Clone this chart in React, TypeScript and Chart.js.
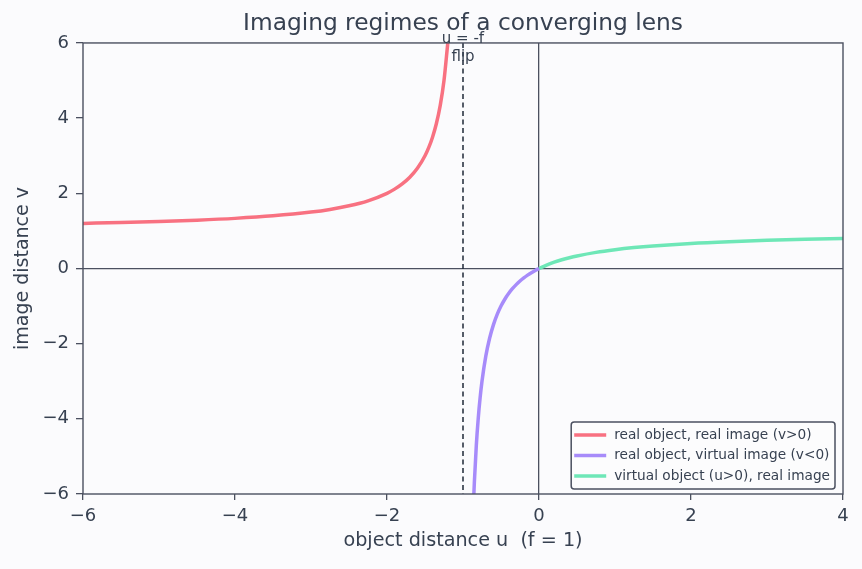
import React, { useEffect, useRef } from "react";
import { Chart, registerables } from "chart.js";

Chart.register(...registerables);

// Data: object distance u -> image distance v
const realImageU = [-6, -5.5, -5, -4.5, -4, -3.5, -3, -2.75, -2.5, -2.25, -2, -1.9, -1.8, -1.7, -1.6, -1.5, -1.45, -1.4, -1.35, -1.3, -1.25, -1.2];
const realImageV = [1.2, 1.222, 1.25, 1.286, 1.333, 1.4, 1.5, 1.571, 1.667, 1.8, 2.0, 2.111, 2.25, 2.429, 2.667, 3.0, 3.222, 3.5, 3.857, 4.333, 5.0, 6.0];

const virtualImageU = [-0.857, -0.85, -0.825, -0.8, -0.775, -0.75, -0.7, -0.65, -0.6, -0.55, -0.5, -0.45, -0.4, -0.35, -0.3, -0.25, -0.2, -0.15, -0.1, -0.05, 0];
const virtualImageV = [-6.0, -5.667, -4.714, -4.0, -3.444, -3.0, -2.333, -1.857, -1.5, -1.222, -1.0, -0.818, -0.667, -0.538, -0.429, -0.333, -0.25, -0.176, -0.111, -0.053, 0];

const virtualObjectU = [0, 0.1, 0.2, 0.3, 0.4, 0.5, 0.75, 1, 1.25, 1.5, 2, 2.5, 3, 3.5, 4];
const virtualObjectV = [0, 0.091, 0.167, 0.231, 0.286, 0.333, 0.429, 0.5, 0.556, 0.6, 0.667, 0.714, 0.75, 0.778, 0.8];

const seriesLabels = [
  "real object, real image (v>0)",
  "real object, virtual image (v<0)",
  "virtual object (u>0), real image",
];
const seriesColors = ["#f87181", "#a78bfa", "#6ee7b7"];

const xTicks = [-6, -4, -2, 0, 2, 4];
const yTicks = [-6, -4, -2, 0, 2, 4, 6];
const focalU = -1;

const FONT = "'DejaVu Sans', sans-serif";
const TEXT = "#374151";
const AXIS = "#4b5060";
const BG = "#fbfbfd";

const toPoints = (xs: number[], ys: number[]) => xs.map((x, i) => ({ x, y: ys[i] }));

const overlayPlugin = {
  id: "overlay",
  beforeDraw(chart: any) {
    const { ctx, width, height } = chart;
    ctx.save();
    ctx.fillStyle = BG;
    ctx.fillRect(0, 0, width, height);
    ctx.restore();
  },
  beforeDatasetsDraw(chart: any) {
    const { ctx, chartArea, scales } = chart;
    const x = scales.x.getPixelForValue(focalU);
    ctx.save();
    ctx.strokeStyle = "#1f2937";
    ctx.lineWidth = 1.5;
    ctx.setLineDash([5, 3.5]);
    ctx.beginPath();
    ctx.moveTo(x, chartArea.top);
    ctx.lineTo(x, chartArea.bottom);
    ctx.stroke();
    ctx.restore();
  },
  afterDatasetsDraw(chart: any) {
    const { ctx, chartArea, scales } = chart;
    ctx.save();
    // frame
    ctx.strokeStyle = AXIS;
    ctx.lineWidth = 1.4;
    ctx.strokeRect(chartArea.left, chartArea.top, chartArea.right - chartArea.left, chartArea.bottom - chartArea.top);
    // annotation
    const x = scales.x.getPixelForValue(focalU);
    ctx.fillStyle = TEXT;
    ctx.font = `15px ${FONT}`;
    ctx.textAlign = "center";
    ctx.textBaseline = "middle";
    ctx.fillText("u = -f", x, chartArea.top - 4);
    ctx.fillText("flip", x, chartArea.top + 14);

    // legend
    ctx.font = `13.7px ${FONT}`;
    const rowH = 20.5;
    const lineLen = 32;
    let maxW = 0;
    seriesLabels.forEach((l) => (maxW = Math.max(maxW, ctx.measureText(l).width)));
    const boxW = 3 + lineLen + 8 + maxW + 5;
    const boxH = rowH * 2 + 26;
    const bx = chartArea.right - 8 - boxW;
    const by = chartArea.bottom - 5 - boxH;
    ctx.beginPath();
    ctx.roundRect(bx, by, boxW, boxH, 3);
    ctx.fillStyle = "rgba(251,251,253,0.85)";
    ctx.fill();
    ctx.strokeStyle = AXIS;
    ctx.lineWidth = 1.5;
    ctx.stroke();
    ctx.textAlign = "left";
    seriesLabels.forEach((l, i) => {
      const cy = by + 13 + i * rowH;
      ctx.strokeStyle = seriesColors[i];
      ctx.lineWidth = 3.5;
      ctx.beginPath();
      ctx.moveTo(bx + 3, cy);
      ctx.lineTo(bx + 3 + lineLen, cy);
      ctx.stroke();
      ctx.fillStyle = TEXT;
      ctx.fillText(l, bx + 3 + lineLen + 8, cy);
    });
    ctx.restore();
  },
};

export default function App() {
  const canvasRef = useRef<HTMLCanvasElement | null>(null);

  useEffect(() => {
    document.body.style.margin = "0";
    document.body.style.background = BG;
    const canvas = canvasRef.current;
    if (!canvas) return;
    const minus = (v: any) => String(v).replace("-", "\u2212");
    const chart = new Chart(canvas, {
      type: "line",
      data: {
        datasets: [
          { label: seriesLabels[0], data: toPoints(realImageU, realImageV), borderColor: seriesColors[0], borderWidth: 3.5, pointRadius: 0, cubicInterpolationMode: "monotone" },
          { label: seriesLabels[1], data: toPoints(virtualImageU, virtualImageV), borderColor: seriesColors[1], borderWidth: 3.5, pointRadius: 0, cubicInterpolationMode: "monotone" },
          { label: seriesLabels[2], data: toPoints(virtualObjectU, virtualObjectV), borderColor: seriesColors[2], borderWidth: 3.5, pointRadius: 0, cubicInterpolationMode: "monotone" },
        ],
      },
      options: {
        animation: false,
        responsive: false,
        layout: { padding: { left: 0, right: 19, top: 0, bottom: 0 } },
        plugins: {
          legend: { display: false },
          tooltip: { enabled: false },
          title: {
            display: true,
            fullSize: false,
            text: "Imaging regimes of a converging lens",
            color: TEXT,
            font: { family: FONT, size: 23.3, weight: "normal" },
            padding: { top: 10, bottom: 5 },
          },
        },
        scales: {
          x: {
            type: "linear",
            min: -6,
            max: 4,
            afterBuildTicks: (s: any) => { s.ticks = xTicks.map((v) => ({ value: v })); },
            afterFit: (s: any) => { s.height = 75; },
            ticks: { color: TEXT, font: { family: FONT, size: 18 }, padding: 6, callback: minus, maxRotation: 0 },
            grid: {
              color: (c: any) => (c.tick && c.tick.value === 0 ? AXIS : "transparent"),
              tickColor: AXIS,
              tickLength: 6,
              lineWidth: 1.3,
            },
            border: { display: false },
            title: { display: true, text: "object distance u  (f = 1)", color: TEXT, font: { family: FONT, size: 19.2 }, padding: { top: 4, bottom: 16 } },
          },
          y: {
            type: "linear",
            min: -6,
            max: 6,
            afterBuildTicks: (s: any) => { s.ticks = yTicks.map((v) => ({ value: v })); },
            afterFit: (s: any) => { s.width = 83; },
            ticks: { color: TEXT, font: { family: FONT, size: 18 }, padding: 7, callback: minus },
            grid: {
              color: (c: any) => (c.tick && c.tick.value === 0 ? AXIS : "transparent"),
              tickColor: AXIS,
              tickLength: 7,
              lineWidth: 1.3,
            },
            border: { display: false },
            title: { display: true, text: "image distance v", color: TEXT, font: { family: FONT, size: 19 }, padding: { top: 12, bottom: 0 } },
          },
        },
      } as any,
      plugins: [overlayPlugin],
    });
    return () => chart.destroy();
  }, []);

  return (
    <div style={{ width: 862, height: 569 }}>
      <canvas ref={canvasRef} width={862} height={569} style={{ display: "block" }} />
    </div>
  );
}
